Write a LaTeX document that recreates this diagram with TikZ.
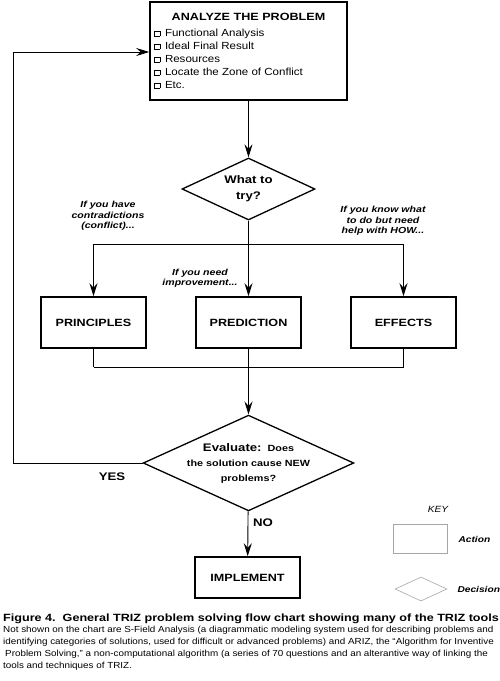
\documentclass[tikz,border=0pt]{standalone}
\usepackage{fontspec}
\setmainfont{Liberation Sans}
\newfontfamily\heavy[FakeStretch=1.2]{Liberation Sans Bold}
\newfontfamily\heavyit[FakeStretch=1.2]{Liberation Sans Bold Italic}
\newfontfamily\wide[FakeStretch=1.12]{Liberation Sans}
\newfontfamily\wideit[FakeStretch=1.12]{Liberation Sans Italic}
\usetikzlibrary{shapes.geometric,positioning,arrows.meta}
\newcommand\tickbox{\raisebox{0.5pt}{\setlength{\fboxsep}{0pt}\setlength{\fboxrule}{0.4pt}\fbox{\rule{0pt}{5pt}\hspace{5pt}}}\hspace{5pt}}
\tikzset{
>={Stealth[length=13pt,width=8pt,inset=4.5pt]},
flow/.style={->, line width=0.9pt},
link/.style={line width=0.9pt},
action/.style={draw, line width=1.6pt, minimum width=105pt, minimum height=51pt, inner sep=0pt, font=\heavy\fontsize{10.5}{12}\selectfont},
decision/.style={draw, diamond, line width=1.3pt, inner sep=0pt, aspect=2.2, align=center},
hint/.style={align=center, font=\heavyit\fontsize{8.8}{10.5}\selectfont},
answer/.style={font=\heavy\fontsize{11}{12}\selectfont},
keybox/.style={draw=gray!70, line width=0.6pt},
}

\begin{document}
\begin{tikzpicture}[x=1pt, y=-1pt, node distance=155pt]
    \useasboundingbox (0,0) rectangle (500,681);

    % what the problem is
    \node[draw, line width=1.6pt, minimum width=197pt, minimum height=98pt] (analyze) at (248.5,51) {};
    \node[font=\heavy\fontsize{10.5}{12}\selectfont] (analyzetitle) at (248.5,17) {ANALYZE THE PROBLEM};
    \node[anchor=north west, align=left, inner sep=0pt, font=\wide\fontsize{10.3}{13}\selectfont] (tools) at (154,29)
        {\tickbox Functional Analysis\\\tickbox Ideal Final Result\\\tickbox Resources\\\tickbox Locate the Zone of Conflict\\\tickbox Etc.};

    \node[decision, minimum width=133pt, minimum height=62pt, font=\heavy\fontsize{11}{16}\selectfont] (try) at (248.5,189) {What to\\try?};

    \node[action] (prediction) at (248.5,322.5) {PREDICTION};
    \node[action, left of=prediction] (principles) {PRINCIPLES};
    \node[action, right of=prediction] (effects) {EFFECTS};

    \node[decision, minimum width=203pt, minimum height=91pt, font=\heavy\fontsize{9}{15}\selectfont] (evaluate) at (248.5,463)
        {{\fontsize{11}{15}\selectfont Evaluate:}\ \ Does\\the solution cause NEW\\problems?};
    \node[action, minimum height=41pt] (implement) at (247.5,577.5) {IMPLEMENT};

    \coordinate (split) at (248.5,244);
    \coordinate (merge) at (248.5,367);
    \coordinate (back) at (13,52);

    \draw[flow] (analyze) -- (try);
    \draw[link] (try) -- (split);
    \draw[link] (split -| principles) -- (split -| effects);
    \foreach \n in {principles,prediction,effects} {
        \draw[flow] (split -| \n) -- (\n);
        \draw[link] (\n) -- (merge -| \n);
    }
    \draw[link] (merge -| principles) -- (merge -| effects);
    \draw[flow] (merge) -- (evaluate);
    \draw[flow] (evaluate.west) -| (back) -- (back -| analyze.west);
    \draw[flow] (evaluate) -- (implement);

    \node[answer] (yes) at (112,477) {YES};
    \node[answer] (no) at (263,523) {NO};
    \node[hint] (hintprinciples) at (108,216) {If you have\\contradictions\\(conflict)...};
    \node[hint] (hinteffects) at (383,221) {If you know what\\to do but need\\help with HOW...};
    \node[hint] (hintprediction) at (200,278) {If you need\\improvement...};

    % key
    \node[font=\wideit\fontsize{9}{10}\selectfont] (keytitle) at (438,509) {KEY};
    \node[keybox, minimum width=54pt, minimum height=29pt] (keyaction) at (420,538.5) {};
    \node[hint, anchor=west, font=\heavyit\fontsize{8.5}{10}\selectfont] (actionlabel) at (455,539) {Action};
    \node[keybox, diamond, minimum width=52pt, minimum height=24pt, inner sep=0pt] (keydecision) at (421,589) {};
    \node[hint, anchor=west, font=\heavyit\fontsize{8.5}{10}\selectfont] (decisionlabel) at (454,589) {Decision};

    % caption
    \node[anchor=west, inner sep=0pt, font=\heavy\fontsize{10.5}{12}\selectfont] (figtitle) at (3,619)
        {Figure 4.\ \ General TRIZ problem solving flow chart showing many of the TRIZ tools};
    \node[anchor=north west, align=left, inner sep=0pt, font=\wide\fontsize{8.8}{12}\selectfont] (figtext) at (3,626)
        {Not shown on the chart are S-Field Analysis (a diagrammatic modeling system used for describing problems and\\
        identifying categories of solutions, used for difficult or advanced problems) and ARIZ, the “Algorithm for Inventive\\
        \hspace{2pt}Problem Solving,” a non-computational algorithm (a series of 70 questions and an alterantive way of linking the\\
        tools and techniques of TRIZ.};
\end{tikzpicture}
\end{document}
